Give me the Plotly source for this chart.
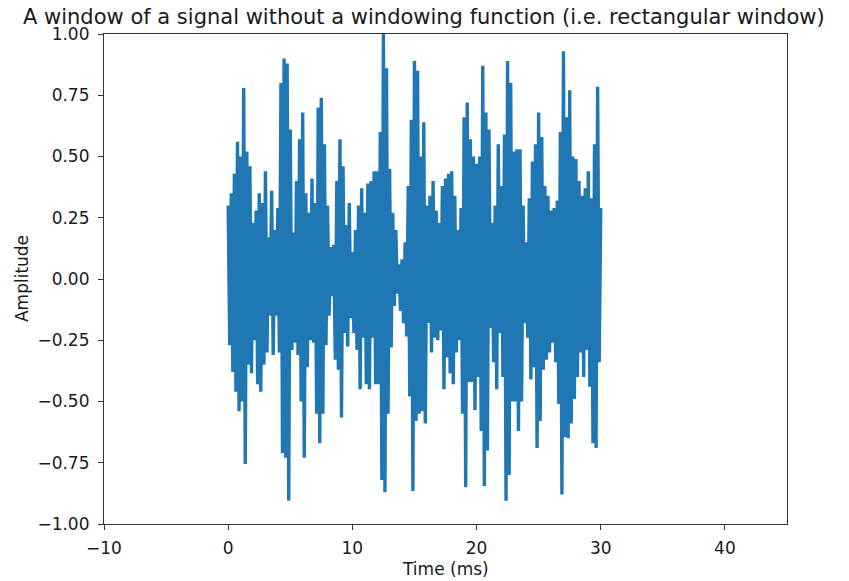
import plotly.graph_objects as go

# Sampling: 8 kHz signal -> 0.125 ms per sample, window 0..30 ms
sample_step_ms = 0.125

# Positive peaks (even samples, every 0.25 ms from 0 to 30 ms)
upper_peaks = [
    0.30, 0.35, 0.43, 0.56, 0.50, 0.78, 0.52, 0.46, 0.23, 0.28,
    0.35, 0.31, 0.44, 0.17, 0.36, 0.20, 0.29, 0.80, 0.90, 0.88,
    0.61, 0.19, 0.40, 0.57, 0.68, 0.35, 0.27, 0.41, 0.31, 0.70,
    0.74, 0.55, 0.30, 0.13, 0.14, 0.40, 0.57, 0.46, 0.22, 0.31,
    0.11, 0.20, 0.30, 0.37, 0.27, 0.39, 0.40, 0.44, 0.44, 0.60,
    1.00, 0.86, 0.45, 0.27, 0.20, 0.06, 0.08, 0.15, 0.38, 0.65,
    0.89, 0.85, 0.50, 0.64, 0.30, 0.34, 0.40, 0.28, 0.23, 0.38,
    0.41, 0.43, 0.44, 0.34, 0.20, 0.29, 0.66, 0.72, 0.57, 0.50,
    0.47, 0.50, 0.87, 0.68, 0.61, 0.23, 0.30, 0.55, 0.38, 0.59,
    0.89, 0.80, 0.52, 0.53, 0.53, 0.30, 0.15, 0.33, 0.48, 0.55,
    0.68, 0.58, 0.38, 0.34, 0.28, 0.29, 0.32, 0.60, 0.93, 0.66,
    0.77, 0.50, 0.49, 0.40, 0.34, 0.37, 0.44, 0.33, 0.55, 0.785,
    0.29,
]

# Negative troughs (odd samples, between the peaks)
lower_troughs = [
    -0.27, -0.38, -0.46, -0.54, -0.50, -0.755, -0.35, -0.385, -0.25, -0.43,
    -0.46, -0.35, -0.30, -0.15, -0.31, -0.15, -0.30, -0.71, -0.73, -0.905,
    -0.29, -0.26, -0.31, -0.50, -0.73, -0.36, -0.25, -0.26, -0.55, -0.67,
    -0.55, -0.27, -0.15, -0.07, -0.33, -0.37, -0.565, -0.22, -0.275, -0.16,
    -0.22, -0.29, -0.45, -0.24, -0.43, -0.45, -0.24, -0.43, -0.43, -0.82,
    -0.87, -0.55, -0.28, -0.11, -0.06, -0.13, -0.18, -0.235, -0.48, -0.865,
    -0.58, -0.55, -0.54, -0.59, -0.18, -0.30, -0.24, -0.25, -0.21, -0.45,
    -0.32, -0.385, -0.43, -0.30, -0.25, -0.55, -0.85, -0.42, -0.42, -0.535,
    -0.40, -0.62, -0.845, -0.70, -0.20, -0.34, -0.45, -0.22, -0.40, -0.905,
    -0.80, -0.50, -0.50, -0.62, -0.50, -0.18, -0.24, -0.41, -0.36, -0.69,
    -0.58, -0.37, -0.33, -0.30, -0.26, -0.34, -0.51, -0.88, -0.645, -0.65,
    -0.59, -0.49, -0.40, -0.30, -0.40, -0.29, -0.44, -0.67, -0.69, -0.34,
]

x_ticks = [-10, 0, 10, 20, 30, 40]
y_ticks = [-1.0, -0.75, -0.5, -0.25, 0.0, 0.25, 0.5, 0.75, 1.0]

title_text = "A window of a signal without a windowing function (i.e. rectangular window)"
x_label = "Time (ms)"
y_label = "Amplitude"

# Interleave peaks and troughs into the sample sequence
amplitude = []
for i, p in enumerate(upper_peaks):
    amplitude.append(p)
    if i < len(lower_troughs):
        amplitude.append(lower_troughs[i])
time_ms = [i * sample_step_ms for i in range(len(amplitude))]

font_family = "DejaVu Sans"
text_color = "#1a1a1a"

fig = go.Figure()
fig.add_trace(go.Scatter(
    x=time_ms, y=amplitude, mode="lines",
    line=dict(color="#1f77b4", width=3.4),
    hoverinfo="skip", showlegend=False,
))

axis_common = dict(
    showgrid=False, zeroline=False,
    showline=True, linecolor="#333", linewidth=1.2, mirror=True,
    ticks="outside", ticklen=5, tickwidth=1.2, tickcolor="#333",
    tickfont=dict(family=font_family, size=17, color=text_color),
)

fig.update_layout(
    width=849, height=581,
    margin=dict(l=96, r=70, t=26, b=65),
    paper_bgcolor="white", plot_bgcolor="white",
    font=dict(family=font_family, color=text_color),
    xaxis=dict(range=[-10, 45], tickvals=x_ticks, ticklabelstandoff=3, **axis_common),
    yaxis=dict(range=[-1, 1], tickvals=y_ticks, tickformat=".2f",
               ticklabelstandoff=5, **axis_common),
    annotations=[
        dict(text=title_text, xref="paper", yref="paper", x=0.4685, y=1.0337,
             xanchor="center", yanchor="middle", showarrow=False,
             font=dict(family=font_family, size=21, color=text_color)),
        dict(text=x_label, xref="paper", yref="paper", x=0.5, y=-0.0918,
             xanchor="center", yanchor="middle", showarrow=False,
             font=dict(family=font_family, size=17, color=text_color)),
        dict(text=y_label, xref="paper", yref="paper", x=-0.12, y=0.5,
             xanchor="center", yanchor="middle", showarrow=False, textangle=-90,
             font=dict(family=font_family, size=17, color=text_color)),
    ],
)

fig.write_html("out.html")
